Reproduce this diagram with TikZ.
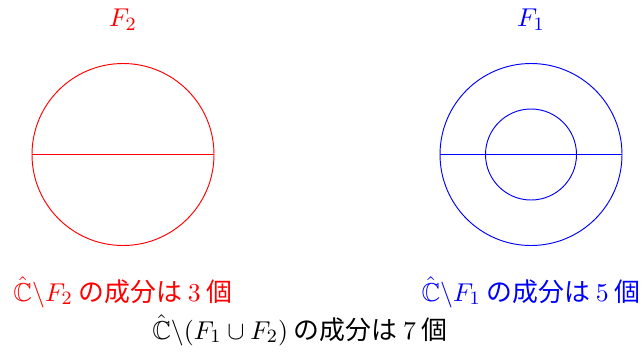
\documentclass[tikz,border=0pt]{standalone}
\usepackage{amsmath, amssymb}
\usepackage{fontspec}
\newfontfamily\cjk{Noto Sans CJK JP}
\usetikzlibrary{positioning}
\definecolor{Fred}{RGB}{255, 0, 0}
\definecolor{Fblue}{RGB}{0, 0, 255}
\tikzset{
	curve/.style={shape=circle, draw, inner sep=0pt, minimum size=#1},
	count/.style={inner sep=0pt, font=\fontsize{11}{13}\selectfont\cjk},
	setname/.style={font=\fontsize{11}{13}\selectfont}
}
\begin{document}
\begin{tikzpicture}[x=0.425pt, y=-0.425pt]
		\useasboundingbox (0,0) rectangle (642,354);
		
		% F2
		\node[setname, text=Fred] (f2label) at (123,20) {$F_{2}$};
		\node[curve=182*0.425pt, Fred] (f2) at (123,154.5) {};
		\draw[Fred] (f2.west) -- (f2.east);
		\node[count, text=Fred] (f2count) at (123,292) {$\hat{\mathbb{C}}\backslash F_{2}$ の成分は $3$ 個};
		
		% F1
		\node[setname, text=Fblue] (f1label) at (531,20) {$F_{1}$};
		\node[curve=182*0.425pt, Fblue] (f1) at (531,154.5) {};
		\node[curve=91*0.425pt, Fblue] (f1in) at (531,154.5) {};
		\draw[Fblue] (f1.west) -- (f1.east);
		\node[count, text=Fblue] (f1count) at (531,292) {$\hat{\mathbb{C}}\backslash F_{1}$ の成分は $5$ 個};
		
		% union
		\node[count] (allcount) at (300,330) {$\hat{\mathbb{C}}\backslash(F_{1}\cup F_{2})$ の成分は $7$ 個};
	\end{tikzpicture}
\end{document}
